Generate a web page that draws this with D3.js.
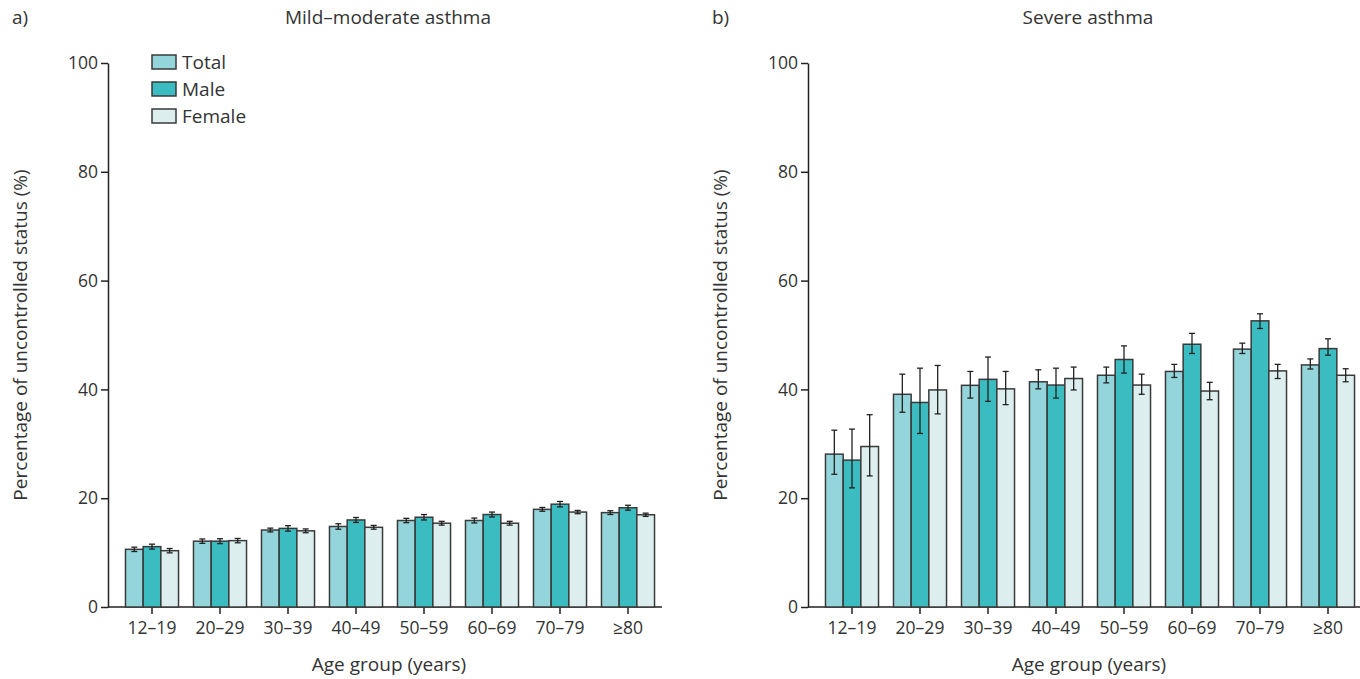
<!DOCTYPE html>
<html>
<head>
<meta charset="utf-8">
<script src="https://d3js.org/d3.v7.min.js"></script>
<style>
  body { margin: 0; background: #fff; font-family: "Open Sans", "Noto Sans", sans-serif; }
  text { fill: #333; }
  .tick text { font-size: 17.5px; fill: #333; font-family: "Open Sans", sans-serif; }
  .tick line { stroke: #222; }
  path.domain { stroke: #222; }
</style>
</head>
<body>
<div id="chart"></div>
<script>
// categories / series
var ageGroups = ['12–19', '20–29', '30–39', '40–49', '50–59', '60–69', '70–79', '≥80'];
var seriesNames = ['Total', 'Male', 'Female'];
var seriesColours = ['#93d5da', '#3bbcc0', '#dcefee'];
var yTicks = [0, 20, 40, 60, 80, 100];

// a) mild-moderate asthma
var mildTotal     = [10.6, 12.1, 14.15, 14.8, 15.9, 15.9, 17.95, 17.35];
var mildTotalLo   = [10.2, 11.7, 13.8, 14.3, 15.5, 15.45, 17.6, 17.0];
var mildTotalHi   = [11.0, 12.5, 14.5, 15.3, 16.3, 16.35, 18.3, 17.7];
var mildMale      = [11.1, 12.1, 14.45, 16.0, 16.5, 17.0, 18.9, 18.25];
var mildMaleLo    = [10.65, 11.65, 13.95, 15.55, 16.0, 16.55, 18.4, 17.8];
var mildMaleHi    = [11.55, 12.55, 14.95, 16.45, 17.0, 17.45, 19.4, 18.7];
var mildFemale    = [10.35, 12.2, 14.0, 14.65, 15.4, 15.4, 17.45, 16.95];
var mildFemaleLo  = [9.95, 11.8, 13.65, 14.3, 15.05, 15.05, 17.15, 16.65];
var mildFemaleHi  = [10.75, 12.6, 14.35, 15.0, 15.75, 15.75, 17.75, 17.25];

// b) severe asthma
var severeTotal    = [28.1, 39.1, 40.75, 41.4, 42.6, 43.3, 47.4, 44.5];
var severeTotalLo  = [24.4, 35.8, 38.4, 40.1, 41.2, 42.2, 46.6, 43.75];
var severeTotalHi  = [32.5, 42.8, 43.3, 43.6, 44.1, 44.6, 48.5, 45.6];
var severeMale     = [27.0, 37.6, 41.85, 40.8, 45.5, 48.3, 52.6, 47.5];
var severeMaleLo   = [21.9, 31.9, 37.8, 38.4, 43.0, 46.6, 51.2, 46.3];
var severeMaleHi   = [32.7, 43.9, 45.95, 43.9, 48.0, 50.3, 53.9, 49.3];
var severeFemale   = [29.5, 39.9, 40.1, 42.0, 40.8, 39.7, 43.4, 42.6];
var severeFemaleLo = [24.1, 35.5, 37.2, 39.9, 39.1, 38.1, 42.0, 41.4];
var severeFemaleHi = [35.35, 44.4, 43.3, 44.1, 42.8, 41.3, 44.6, 43.8];

var width = 1360, height = 679;

var svg = d3.select('#chart').append('svg')
    .attr('width', width)
    .attr('height', height);

var y = d3.scaleLinear().domain([0, 100]).range([607, 63]);

function buildRows(vals, los, his) {
    return ageGroups.map(function(g, i) {
        return {
            group: g,
            items: seriesNames.map(function(s, k) {
                return { series: s, value: vals[k][i], lo: los[k][i], hi: his[k][i], colour: seriesColours[k] };
            })
        };
    });
}

function drawPanel(offsetX, letter, title, rows, showLegend) {
    var g = svg.append('g').attr('transform', 'translate(' + offsetX + ',0)');
    var axisX = 108;

    var x0 = d3.scaleBand().domain(ageGroups).range([118, 662]).paddingInner(0.22).paddingOuter(0.11);
    var x1 = d3.scaleBand().domain(seriesNames).range([0, x0.bandwidth()]);

    // y axis
    g.append('g')
        .attr('transform', 'translate(' + axisX + ',0)')
        .call(d3.axisLeft(y).tickValues(yTicks).tickSize(7).tickPadding(3).tickSizeOuter(0))
        .call(function(a) { a.select('.domain').attr('stroke-width', 1.5); a.selectAll('.tick line').attr('stroke-width', 1.5); });

    // x axis
    var xa = g.append('g')
        .attr('transform', 'translate(0,' + y(0) + ')')
        .call(d3.axisBottom(x0).tickSize(7).tickPadding(8).tickSizeOuter(0));
    xa.select('.domain').remove();
    xa.selectAll('.tick line').attr('stroke-width', 1.5);
    xa.append('line')
        .attr('x1', axisX).attr('x2', 662)
        .attr('stroke', '#222').attr('stroke-width', 1.5);

    var grp = g.selectAll('g.grp')
        .data(rows)
        .enter().append('g')
        .attr('class', 'grp')
        .attr('transform', function(d) { return 'translate(' + x0(d.group) + ',0)'; });

    grp.selectAll('rect')
        .data(function(d) { return d.items; })
        .enter().append('rect')
        .attr('x', function(d) { return x1(d.series); })
        .attr('y', function(d) { return y(d.value); })
        .attr('width', x1.bandwidth())
        .attr('height', function(d) { return y(0) - y(d.value); })
        .attr('fill', function(d) { return d.colour; })
        .attr('stroke', '#3a3a3a')
        .attr('stroke-width', 1.5);

    // error bars
    var eb = grp.selectAll('g.err')
        .data(function(d) { return d.items; })
        .enter().append('g')
        .attr('class', 'err')
        .attr('stroke', '#222')
        .attr('stroke-width', 1.3);
    var cx = function(d) { return x1(d.series) + x1.bandwidth() / 2; };
    eb.append('line')
        .attr('x1', cx).attr('x2', cx)
        .attr('y1', function(d) { return y(d.lo); })
        .attr('y2', function(d) { return y(d.hi); });
    eb.append('line')
        .attr('x1', function(d) { return cx(d) - 3; }).attr('x2', function(d) { return cx(d) + 3; })
        .attr('y1', function(d) { return y(d.lo); }).attr('y2', function(d) { return y(d.lo); });
    eb.append('line')
        .attr('x1', function(d) { return cx(d) - 3; }).attr('x2', function(d) { return cx(d) + 3; })
        .attr('y1', function(d) { return y(d.hi); }).attr('y2', function(d) { return y(d.hi); });

    // titles and labels
    g.append('text').attr('x', 12).attr('y', 24).style('font-size', '19px').text(letter);
    g.append('text').attr('x', 388).attr('y', 24).attr('text-anchor', 'middle')
        .style('font-size', '19px').text(title);
    g.append('text').attr('x', 389).attr('y', 671).attr('text-anchor', 'middle')
        .style('font-size', '19px').text('Age group (years)');
    g.append('text')
        .attr('transform', 'translate(27,335) rotate(-90)')
        .attr('text-anchor', 'middle')
        .style('font-size', '19px')
        .text('Percentage of uncontrolled status (%)');

    if (showLegend) {
        var lg = g.selectAll('g.legend')
            .data(seriesNames)
            .enter().append('g')
            .attr('class', 'legend')
            .attr('transform', function(d, i) { return 'translate(152,' + (55 + i * 27) + ')'; });
        lg.append('rect')
            .attr('width', 24).attr('height', 14)
            .attr('fill', function(d, i) { return seriesColours[i]; })
            .attr('stroke', '#3a3a3a').attr('stroke-width', 1.5);
        lg.append('text')
            .attr('x', 30).attr('y', 14)
            .style('font-size', '19px')
            .text(function(d) { return d; });
    }
}

drawPanel(0, 'a)', 'Mild–moderate asthma',
    buildRows([mildTotal, mildMale, mildFemale], [mildTotalLo, mildMaleLo, mildFemaleLo], [mildTotalHi, mildMaleHi, mildFemaleHi]), true);
drawPanel(700, 'b)', 'Severe asthma',
    buildRows([severeTotal, severeMale, severeFemale], [severeTotalLo, severeMaleLo, severeFemaleLo], [severeTotalHi, severeMaleHi, severeFemaleHi]), false);
</script>
</body>
</html>
